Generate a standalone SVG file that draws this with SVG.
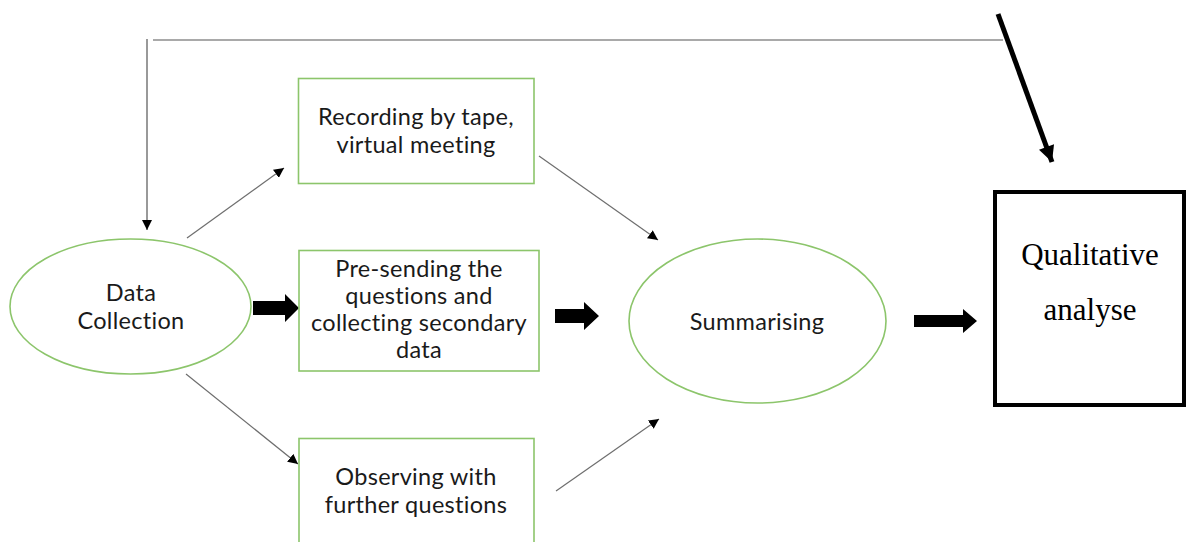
<svg xmlns="http://www.w3.org/2000/svg" width="1186" height="542" viewBox="0 0 1186 542">
  <style>
    .node { fill: #ffffff; stroke: #8cc56b; stroke-width: 1.6; }
    .lbl { font-family: Lato, "Open Sans", "Liberation Sans", sans-serif; font-size: 23.5px; letter-spacing: 0.3px; fill: #1a1a1a; text-anchor: middle; }
    .serif { font-family: "Liberation Serif", "Times New Roman", serif; font-size: 31px; fill: #000; text-anchor: middle; }
    .thin { stroke: #6e6e6e; stroke-width: 1.2; fill: none; }
    .block { fill: #000; }
  </style>
  <defs>
    <marker id="tip" viewBox="0 0 10 10" refX="10" refY="5" markerWidth="10" markerHeight="10" markerUnits="userSpaceOnUse" orient="auto">
      <path d="M0,0 L10,5 L0,10 Z" fill="#000"/>
    </marker>
    <marker id="bigtip" viewBox="0 0 10 10" refX="10" refY="5" markerWidth="18" markerHeight="16" markerUnits="userSpaceOnUse" orient="auto">
      <path d="M0,0 L10,5 L0,10 Z" fill="#000"/>
    </marker>
  </defs>

  <g id="connectors">
    <!-- feedback loop over the top -->
    <line class="thin" x1="153" y1="40" x2="1003" y2="40" style="stroke:#555"/>
    <line class="thin" x1="147" y1="39" x2="147" y2="230" marker-end="url(#tip)" style="stroke:#555"/>
    <line x1="998" y1="14" x2="1052" y2="162" stroke="#000" stroke-width="5" marker-end="url(#bigtip)"/>
    <!-- fan out from data collection -->
    <line class="thin" x1="187" y1="238" x2="284" y2="168" marker-end="url(#tip)"/>
    <line class="thin" x1="186" y1="374" x2="298" y2="464" marker-end="url(#tip)"/>
    <!-- fan in to summarising -->
    <line class="thin" x1="539" y1="156" x2="658" y2="240" marker-end="url(#tip)"/>
    <line class="thin" x1="556" y1="491" x2="659" y2="419" marker-end="url(#tip)"/>
    <!-- block arrows -->
    <path class="block" d="M253,301 H285 V294 L299,308 L285,322 V315 H253 Z"/>
    <path class="block" d="M555,309 H584 V302 L599,316 L584,330 V323 H555 Z"/>
    <path class="block" d="M914,315 H963 V309 L977,321 L963,333 V327 H914 Z"/>
  </g>

  <g id="data-collection">
    <ellipse class="node" cx="130.5" cy="306.5" rx="120.5" ry="67.5"/>
    <text class="lbl" x="131" y="301">Data</text>
    <text class="lbl" x="131" y="329">Collection</text>
  </g>

  <g id="recording">
    <rect class="node" x="298.5" y="78.5" width="235.5" height="105"/>
    <text class="lbl" x="416" y="125">Recording by tape,</text>
    <text class="lbl" x="416" y="153">virtual meeting</text>
  </g>

  <g id="pre-sending">
    <rect class="node" x="299" y="250.5" width="240" height="120.5"/>
    <text class="lbl" x="419" y="277">Pre-sending the</text>
    <text class="lbl" x="419" y="304">questions and</text>
    <text class="lbl" x="419" y="331">collecting secondary</text>
    <text class="lbl" x="419" y="358">data</text>
  </g>

  <g id="observing">
    <rect class="node" x="299" y="438.5" width="235" height="120"/>
    <text class="lbl" x="416" y="485">Observing with</text>
    <text class="lbl" x="416" y="513">further questions</text>
  </g>

  <g id="summarising">
    <ellipse class="node" cx="757.5" cy="321" rx="128.5" ry="82"/>
    <text class="lbl" x="757" y="330">Summarising</text>
  </g>

  <g id="qualitative">
    <rect x="995" y="192" width="189" height="213" fill="#fff" stroke="#000" stroke-width="4"/>
    <text class="serif" x="1090" y="265">Qualitative</text>
    <text class="serif" x="1090" y="320">analyse</text>
  </g>
</svg>
